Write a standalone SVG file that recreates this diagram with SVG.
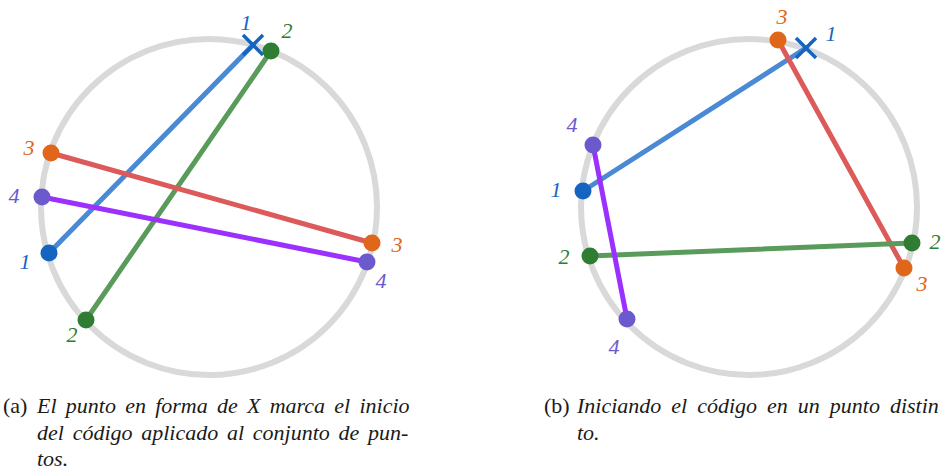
<svg xmlns="http://www.w3.org/2000/svg" width="942" height="474" viewBox="0 0 942 474">
<style>
.ring{fill:none;stroke:#d9d9d9;stroke-width:6}
.ln{stroke-width:5;stroke-linecap:round;fill:none}
.lb{stroke:#4a89d4}.lg{stroke:#5a9a5a}.lr{stroke:#dc5a5a}.lp{stroke:#9b30ff}
.x{stroke:#1565c0;stroke-width:3.5;fill:none}
.db{fill:#1565c0}.dg{fill:#2e7d32}.do{fill:#e0661a}.dp{fill:#6a5acd}
.t{font-family:'Liberation Serif','Times New Roman',serif;font-style:italic;font-size:22px;text-anchor:middle}
.tb{fill:#1565c0}.tg{fill:#2e7d32}.to{fill:#e0661a}.tp{fill:#6a5acd}
.cap{font-family:'Liberation Serif','Times New Roman',serif;font-size:22px;fill:#1a1a1a}
.it{font-style:italic}
</style>
<g id="diagram-a">
<circle class="ring" cx="209" cy="207" r="168"/>
<g id="connectors-a">
<line class="ln lb" x1="253" y1="45" x2="49" y2="253"/>
<line class="ln lg" x1="271" y1="51" x2="86" y2="320"/>
<line class="ln lr" x1="51" y1="153" x2="372" y2="243"/>
<line class="ln lp" x1="42" y1="197" x2="367" y2="262"/>
</g>
<g id="a-x1"><path class="x" d="M243 35L263 55M263 35L243 55"/><text class="t tb" x="246" y="30">1</text></g>
<g id="a-g2"><circle class="dg" cx="271" cy="51" r="8.5"/><text class="t tg" x="287" y="38">2</text></g>
<g id="a-o3"><circle class="do" cx="51" cy="153" r="8.5"/><text class="t to" x="29" y="155">3</text></g>
<g id="a-p4"><circle class="dp" cx="42" cy="197" r="8.5"/><text class="t tp" x="14" y="203">4</text></g>
<g id="a-b1"><circle class="db" cx="49" cy="253" r="8.5"/><text class="t tb" x="25" y="269">1</text></g>
<g id="a-g2b"><circle class="dg" cx="86" cy="320" r="8.5"/><text class="t tg" x="72" y="342">2</text></g>
<g id="a-o3b"><circle class="do" cx="372" cy="243" r="8.5"/><text class="t to" x="397" y="252">3</text></g>
<g id="a-p4b"><circle class="dp" cx="367" cy="262" r="8.5"/><text class="t tp" x="381" y="288">4</text></g>
</g>
<g id="diagram-b">
<circle class="ring" cx="749" cy="207" r="168"/>
<g id="connectors-b">
<line class="ln lb" x1="806" y1="48" x2="583" y2="191"/>
<line class="ln lr" x1="778" y1="40" x2="904" y2="268"/>
<line class="ln lg" x1="590" y1="256" x2="912" y2="243"/>
<line class="ln lp" x1="593" y1="145" x2="627" y2="319"/>
</g>
<g id="b-o3"><circle class="do" cx="778" cy="40" r="8.5"/><text class="t to" x="782" y="24">3</text></g>
<g id="b-x1"><path class="x" d="M796 38L816 58M816 38L796 58"/><text class="t tb" x="831" y="41">1</text></g>
<g id="b-p4"><circle class="dp" cx="593" cy="145" r="8.5"/><text class="t tp" x="572" y="132">4</text></g>
<g id="b-b1"><circle class="db" cx="583" cy="191" r="8.5"/><text class="t tb" x="556" y="197">1</text></g>
<g id="b-g2"><circle class="dg" cx="590" cy="256" r="8.5"/><text class="t tg" x="564" y="264">2</text></g>
<g id="b-p4b"><circle class="dp" cx="627" cy="319" r="8.5"/><text class="t tp" x="614" y="354">4</text></g>
<g id="b-g2b"><circle class="dg" cx="912" cy="243" r="8.5"/><text class="t tg" x="935" y="249">2</text></g>
<g id="b-o3b"><circle class="do" cx="904" cy="268" r="8.5"/><text class="t to" x="922" y="291">3</text></g>
</g>
<g id="captions">
<text class="cap" x="3" y="413">(a)</text>
<text class="cap it" x="37" y="413" word-spacing="3.75">El punto en forma de X marca el inicio</text>
<text class="cap it" x="37" y="440" word-spacing="3.25">del código aplicado al conjunto de pun-</text>
<text class="cap it" x="37" y="466">tos.</text>
<text class="cap" x="544" y="413">(b)</text>
<text class="cap it" x="577" y="413" word-spacing="4.5">Iniciando el código en un punto distin</text>
<text class="cap it" x="577" y="440">to.</text>
</g>
</svg>
